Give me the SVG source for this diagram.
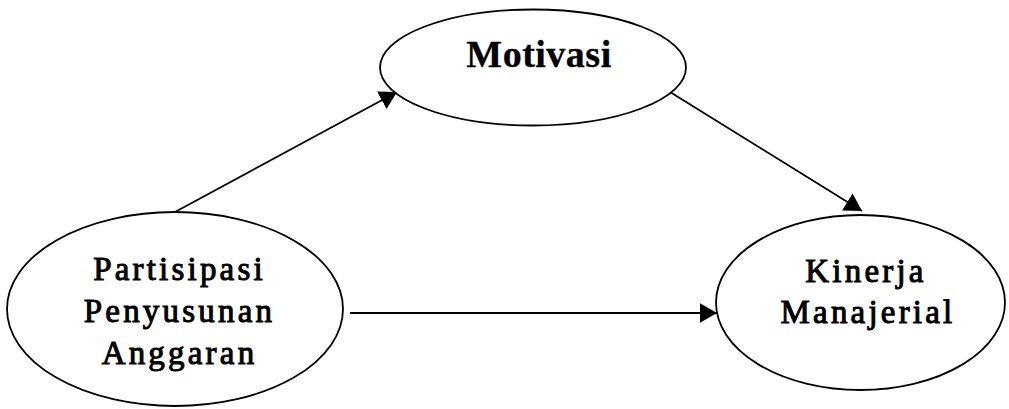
<svg xmlns="http://www.w3.org/2000/svg" width="1009" height="409" viewBox="0 0 1009 409">
<style>
.node{fill:#fff;stroke:#000;stroke-width:1.8}
.lbl{font-family:"Liberation Serif","Times New Roman",serif;font-size:33px;fill:#000;stroke:#000;stroke-width:1;text-anchor:middle;letter-spacing:3.2px}
.bold{font-weight:bold;font-size:38px;letter-spacing:0.5px;stroke-width:0.3}
.edge{stroke:#000;stroke-width:1.8;fill:none;marker-end:url(#ah)}
</style>
<defs>
<marker id="ah" viewBox="0 0 17.3 20" refX="17.3" refY="10" markerWidth="17.3" markerHeight="20" markerUnits="userSpaceOnUse" orient="auto">
<path d="M0,0 L17.3,10 L0,20 Z" fill="#000"/>
</marker>
</defs>
<rect width="1009" height="409" fill="#fff"/>
<g id="connectors">
<line class="edge" x1="175" y1="212" x2="397" y2="92"/>
<line class="edge" x1="670" y1="92" x2="862" y2="211"/>
<line class="edge" x1="350" y1="313" x2="717" y2="313"/>
</g>
<g id="motivasi">
<ellipse class="node" cx="533" cy="67.5" rx="153" ry="58"/>
<text class="lbl bold" x="539" y="67">Motivasi</text>
</g>
<g id="partisipasi">
<ellipse class="node" cx="175" cy="309" rx="168" ry="97"/>
<text class="lbl" x="179.5" y="280">Partisipasi</text>
<text class="lbl" x="179.5" y="322">Penyusunan</text>
<text class="lbl" x="179.5" y="364">Anggaran</text>
</g>
<g id="kinerja">
<ellipse class="node" cx="860.5" cy="302.5" rx="144.5" ry="87.5"/>
<text class="lbl" x="866" y="282">Kinerja</text>
<text class="lbl" x="868" y="323">Manajerial</text>
</g>
</svg>
